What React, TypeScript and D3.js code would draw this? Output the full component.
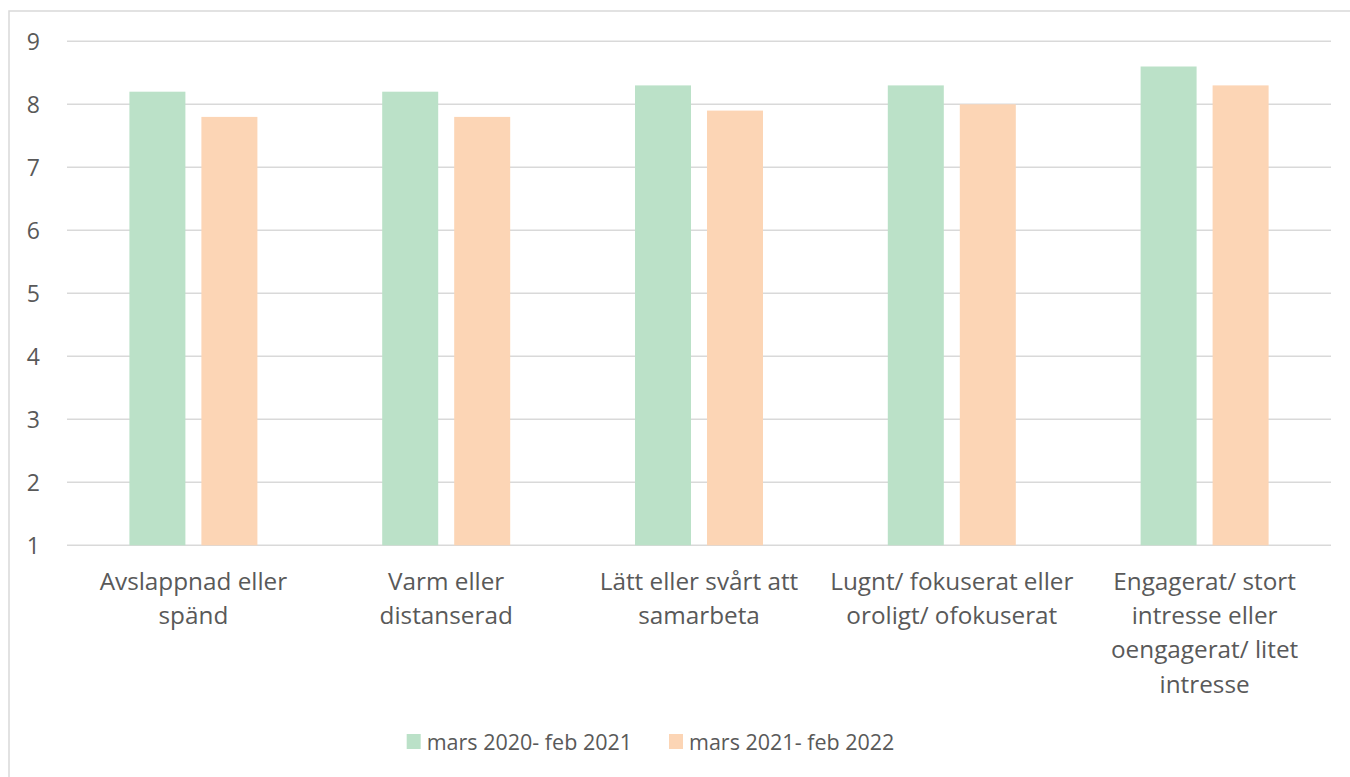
import React from "react";
import * as d3 from "d3";

const categories = [
  "Avslappnad eller spänd",
  "Varm eller distanserad",
  "Lätt eller svårt att samarbeta",
  "Lugnt/ fokuserat eller oroligt/ ofokuserat",
  "Engagerat/ stort intresse eller oengagerat/ litet intresse",
];
const categoryLines = [
  ["Avslappnad eller", "spänd"],
  ["Varm eller", "distanserad"],
  ["Lätt eller svårt att", "samarbeta"],
  ["Lugnt/ fokuserat eller", "oroligt/ ofokuserat"],
  ["Engagerat/ stort", "intresse eller", "oengagerat/ litet", "intresse"],
];
const seriesNames = ["mars 2020- feb 2021", "mars 2021- feb 2022"];
const series1 = [8.2, 8.2, 8.3, 8.3, 8.6];
const series2 = [7.8, 7.8, 7.9, 8.0, 8.3];
const yTicks = [1, 2, 3, 4, 5, 6, 7, 8, 9];
const colors = ["#bbe1c8", "#fcd5b5"];

export default function App() {
  const W = 1350, H = 777;
  const left = 67, right = 1331, top = 41.3, bottom = 545.3;
  const font = "'Open Sans', sans-serif";
  const textColor = "#595959";

  const y = d3.scaleLinear().domain([1, 9]).range([bottom, top]);
  const x0 = d3.scaleBand<string>().domain(categories).range([left, right]).padding(0);
  const groupW = 128;
  const x1 = d3
    .scaleBand<string>()
    .domain(seriesNames)
    .range([(x0.bandwidth() - groupW) / 2, (x0.bandwidth() + groupW) / 2])
    .paddingInner(16 / 72)
    .paddingOuter(0);
  const values = [series1, series2];

  return (
    <svg
      width={W}
      height={H}
      style={{ position: "absolute", left: 0, top: 0, background: "#fff" }}
      fontFamily={font}
    >
      <rect x={9} y={11} width={1400} height={900} fill="#fff" stroke="#d9d9d9" strokeWidth={1.5} />
      {yTicks.map((t) => (
        <g key={t}>
          <line x1={left} x2={right} y1={y(t)} y2={y(t)} stroke="#d9d9d9" strokeWidth={1.5} />
          <text x={40} y={y(t)} dy="0.36em" textAnchor="end" fontSize={23} fill={textColor}>
            {t}
          </text>
        </g>
      ))}
      {categories.map((c, i) => (
        <g key={c} transform={`translate(${x0(c)},0)`}>
          {seriesNames.map((s, j) => (
            <rect
              key={s}
              x={x1(s)}
              y={y(values[j][i])}
              width={x1.bandwidth()}
              height={y(1) - y(values[j][i])}
              fill={colors[j]}
            />
          ))}
          <text textAnchor="middle" fontSize={24.3} fill={textColor}>
            {categoryLines[i].map((l, k) => (
              <tspan key={k} x={x0.bandwidth() / 2} y={590 + k * 34.2}>
                {l}
              </tspan>
            ))}
          </text>
        </g>
      ))}
      {seriesNames.map((s, j) => {
        const lx = [406.7, 669][j];
        return (
          <g key={s}>
            <rect x={lx} y={734} width={14} height={15} fill={colors[j]} />
            <text x={lx + 20} y={750} fontSize={21.5} fill={textColor}>
              {s}
            </text>
          </g>
        );
      })}
    </svg>
  );
}
